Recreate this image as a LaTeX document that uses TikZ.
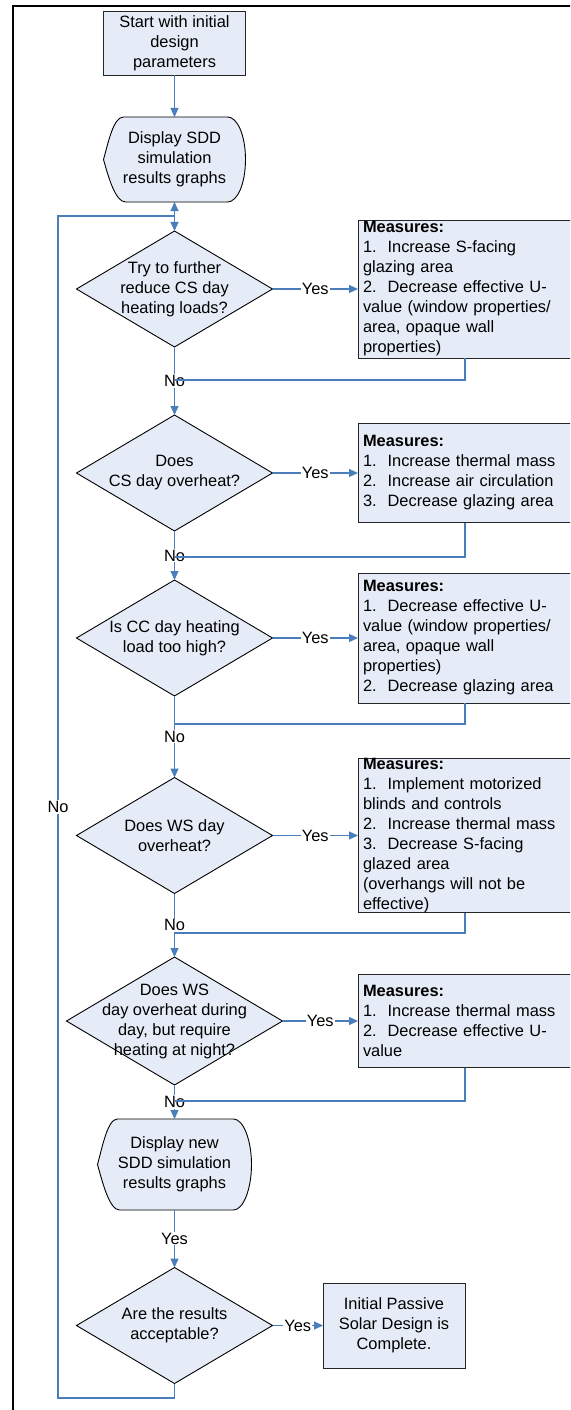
\documentclass[tikz,border=0pt]{standalone}
\usepackage{fontspec}
\setmainfont{Liberation Sans}
\usetikzlibrary{shapes.geometric, arrows.meta, backgrounds}
\definecolor{boxfill}{HTML}{E6ECF7}
\definecolor{linkblue}{HTML}{4A7EBB}
% outline of a display shape round a node
\newcommand{\dispoutline}[1]{%
  \filldraw[fill=boxfill, draw=black, line width=0.9pt]
    ([xshift=20pt]#1.north west) -- ([xshift=-18pt]#1.north east)
    .. controls +(10pt,0pt) and +(0pt,24pt) .. (#1.east)
    .. controls +(0pt,-24pt) and +(10pt,0pt) .. ([xshift=-18pt]#1.south east)
    -- ([xshift=22pt]#1.south west)
    .. controls +(-10pt,0pt) and +(5pt,-18pt) .. (#1.west)
    .. controls +(5pt,18pt) and +(-10pt,0pt) .. ([xshift=20pt]#1.north west) -- cycle;}

\begin{document}
\begin{tikzpicture}[x=1pt, y=-1pt,
  every node/.style={font=\fontsize{16.4}{20}\selectfont, align=center, outer sep=0pt},
  procbox/.style={draw=black!85, fill=boxfill, line width=0.9pt, minimum width=142pt, minimum height=64pt, inner sep=0pt},
  dispbox/.style={minimum width=142pt, minimum height=85pt, inner sep=0pt},
  decision/.style={diamond, draw=black, fill=boxfill, line width=0.9pt, aspect=1.69, minimum width=196pt, minimum height=116pt, inner sep=-15pt},
  measbox/.style={draw=black!85, fill=boxfill, line width=0.9pt, anchor=west, align=left, text width=205pt, inner xsep=5pt, inner ysep=0pt},
  link/.style={draw=linkblue, line width=1.1pt, -{Triangle[length=9pt,width=8pt]}},
  back/.style={draw=linkblue, line width=1.1pt},
  tag/.style={fill=white, inner sep=1pt}]
	\useasboundingbox (0,0) rectangle (570,1410);
	\clip (0,0) rectangle (570,1410);
	% frame
	\draw[line width=2.2pt] (13,1420) -- (13,6) -- (580,6);
	% main column
	\node[procbox] (start) at (174.5,43) {Start with initial\\design\\parameters};
	\node[dispbox] (disp1) at (174.5,159.5) {Display SDD\\simulation\\results graphs};
	\node[decision] (d1) at (174.5,289) {Try to further\\reduce CS day\\heating loads?};
	\node[decision] (d2) at (174.5,473) {Does\\CS day overheat?};
	\node[decision] (d3) at (174.5,638) {Is CC day heating\\load too high?};
	\node[decision] (d4) at (174.5,835.5) {Does WS day\\overheat?};
	\node[decision, aspect=1.6875, minimum width=216pt, minimum height=128pt] (d5) at (174.5,1021) {Does WS\\day overheat during\\day, but require\\heating at night?};
	\node[dispbox, minimum width=154pt, minimum height=91pt] (disp2) at (174.5,1164.5) {Display new\\SDD simulation\\results graphs};
	\node[decision] (d6) at (174.5,1325.5) {Are the results\\acceptable?};
	\node[procbox, minimum height=85pt] (done) at (394,1325.5) {Initial Passive\\Solar Design is\\Complete.};
	\begin{scope}[on background layer]
		\dispoutline{disp1}
		\dispoutline{disp2}
	\end{scope}
	% measures
	\node[measbox, minimum height=138pt] (m1) at (358,289) {\textbf{Measures:}\\1.\ \ Increase S-facing\\glazing area\\2.\ \ Decrease effective U-\\value (window properties/\\area, opaque wall\\properties)};
	\node[measbox, minimum height=99pt] (m2) at (358,473) {\textbf{Measures:}\\1.\ \ Increase thermal mass\\2.\ \ Increase air circulation\\3.\ \ Decrease glazing area};
	\node[measbox, minimum height=130pt] (m3) at (358,638) {\textbf{Measures:}\\1.\ \ Decrease effective U-\\value (window properties/\\area, opaque wall\\properties)\\2.\ \ Decrease glazing area};
	\node[measbox, minimum height=153pt] (m4) at (358,835.5) {\textbf{Measures:}\\1.\ \ Implement motorized\\blinds and controls\\2.\ \ Increase thermal mass\\3.\ \ Decrease S-facing\\glazed area\\(overhangs will not be\\effective)};
	\node[measbox, minimum height=93pt] (m5) at (358,1021) {\textbf{Measures:}\\1.\ \ Increase thermal mass\\2.\ \ Decrease effective U-\\value};
	% free ends
	\coordinate (loopjoin) at (174.5,216);
	\coordinate (looptop) at (58,216);
	\coordinate (loopbot) at (58,1398);
	\coordinate (j1) at (174.5,380);
	\coordinate (j2) at (174.5,557);
	\coordinate (j3) at (174.5,724);
	\coordinate (j4) at (174.5,933);
	\coordinate (j5) at (174.5,1101);
	% connectors down the column
	\draw[link] (start) -- (disp1);
	\draw[link] (disp1) -- (d1);
	\draw[link] (d1) -- node[tag] {No} (d2);
	\draw[link] (d2) -- node[tag] {No} (d3);
	\draw[link] (d3) -- node[tag] {No} (d4);
	\draw[link] (d4) -- node[tag] {No} (d5);
	\draw[link] (d5) -- node[tag] {No} (disp2);
	\draw[link] (disp2) -- node[tag] {Yes} (d6);
	% yes branches
	\draw[link] (d1) -- node[tag] {Yes} (m1);
	\draw[link] (d2) -- node[tag] {Yes} (m2);
	\draw[link] (d3) -- node[tag] {Yes} (m3);
	\draw[link] (d4) -- node[tag] {Yes} (m4);
	\draw[link] (d5) -- node[tag] {Yes} (m5);
	\draw[link] (d6) -- node[tag] {Yes} (done);
	% back into the column
	\draw[back] ([xshift=107pt]m1.south west) |- (j1);
	\draw[back] ([xshift=107pt]m2.south west) |- (j2);
	\draw[back] ([xshift=107pt]m3.south west) |- (j3);
	\draw[back] ([xshift=107pt]m4.south west) |- (j4);
	\draw[back] ([xshift=107pt]m5.south west) |- (j5);
	% loop when results are not acceptable
	\draw[back] (d6.south) |- (loopbot) -- node[tag] {No} (looptop) -- (loopjoin);
	\draw[link] (loopjoin) -- (disp1.south);
\end{tikzpicture}
\end{document}
